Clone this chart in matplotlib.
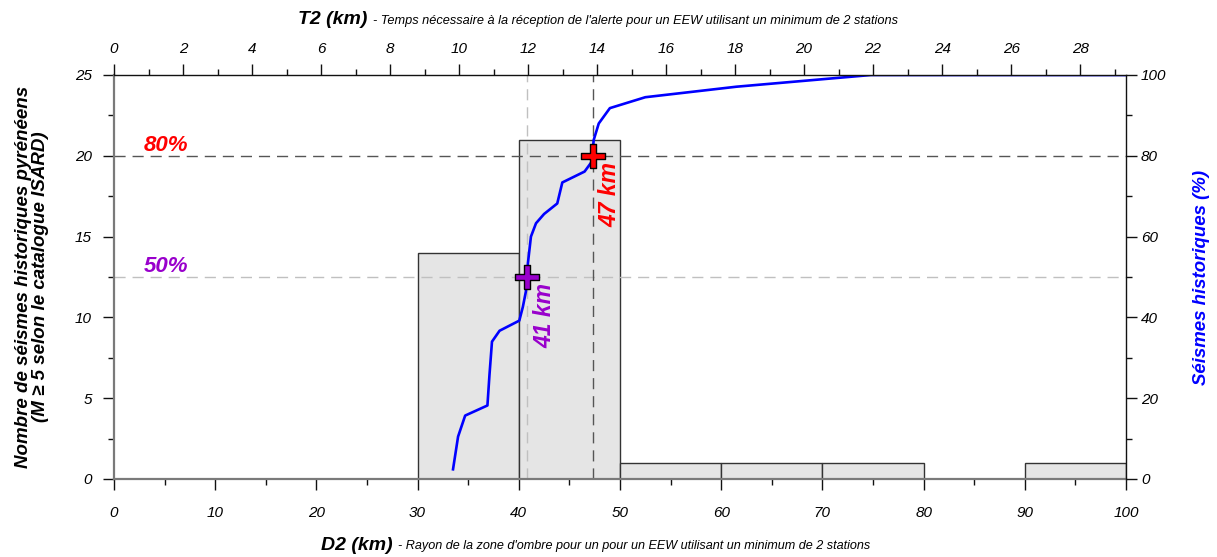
import matplotlib
matplotlib.use("Agg")
import matplotlib.pyplot as plt
from matplotlib.path import Path
from matplotlib.ticker import MultipleLocator

plt.rcParams["font.family"] = ["Liberation Sans", "DejaVu Sans"]

# histogram of D2 (10 km bins)
bin_left = [30, 40, 50, 60, 70, 90]
bin_count = [14, 21, 1, 1, 1, 1]

# cumulative curve (% of historical earthquakes vs D2)
cum_d = [33.5, 34.0, 34.7, 36.9, 37.1, 37.35, 38.1, 40.05, 40.4, 40.7, 40.9,
         41.2, 41.7, 42.5, 43.8, 44.3, 46.5, 47.2, 47.4, 47.9, 49.0, 52.5,
         61.5, 74.8, 100.0]
cum_pct = [2.4, 10.5, 15.7, 18.2, 25.7, 34.0, 36.7, 39.2, 42.6, 46.4, 53.4,
           60.0, 63.3, 65.6, 68.2, 73.4, 76.1, 78.5, 83.9, 88.0, 91.8, 94.5,
           97.1, 100.0, 100.0]

# percentile markers
pct_levels = [50, 80]
pct_d = [40.85, 47.3]
pct_colors = ["#9900cc", "#ff0000"]
pct_labels = ["50%", "80%"]
km_labels = ["41 km", "47 km"]

t2_max = 29.33

# plus-shaped marker outline
w = 0.22
plus = Path([(-w, -1), (w, -1), (w, -w), (1, -w), (1, w), (w, w), (w, 1),
             (-w, 1), (-w, w), (-1, w), (-1, -w), (-w, -w), (-w, -1)])

fig = plt.figure(figsize=(12.17, 5.57), dpi=100)
ax = fig.add_axes([114 / 1217, 78 / 557, 1012 / 1217, 404 / 557])
ax_r = ax.twinx()
ax_t = ax.twiny()

bold_it = dict(fontweight="bold", fontstyle="italic")

ax.bar(bin_left, bin_count, width=10, align="edge", color="#e5e5e5",
       edgecolor="#333333", linewidth=1.0, zorder=1)

ax.set_xlim(0, 100)
ax.set_ylim(0, 25)
ax_r.set_ylim(0, 100)
ax_t.set_xlim(0, t2_max)

# reference dashed lines
line_styles = {50: ("#c0c0c0", 12.5), 80: ("#555555", 20)}
for lvl, d in zip(pct_levels, pct_d):
    col, yv = line_styles[lvl]
    ax.axhline(yv, color=col, lw=1.0, ls=(0, (8, 5)), zorder=2)
    ax.axvline(d, color=col, lw=1.0, ls=(0, (8, 5)), zorder=2)

ax_r.plot(cum_d, cum_pct, color="#0000ff", lw=1.9, zorder=3)

for lvl, d, c, pl, kl in zip(pct_levels, pct_d, pct_colors, pct_labels, km_labels):
    ax_r.plot([d], [lvl], marker=plus, markersize=17, color=c,
              markeredgecolor="black", markeredgewidth=1.0, zorder=4)
    ax_r.text(2.9, lvl + 1.2, pl, color=c, fontsize=16, ha="left",
              va="baseline", **bold_it)
    ax_r.text(d + 1.7, lvl - 9.65, kl, color=c, fontsize=16.5, rotation=90,
              ha="center", va="center", **bold_it)

# ticks
ax.xaxis.set_major_locator(MultipleLocator(10))
ax.xaxis.set_minor_locator(MultipleLocator(5))
ax.yaxis.set_major_locator(MultipleLocator(5))
ax.yaxis.set_minor_locator(MultipleLocator(2.5))
ax_r.yaxis.set_major_locator(MultipleLocator(20))
ax_r.yaxis.set_minor_locator(MultipleLocator(10))
ax_t.xaxis.set_major_locator(MultipleLocator(2))
ax_t.xaxis.set_minor_locator(MultipleLocator(1))

# each axes keeps only its own spines
own_spines = {ax: ("left", "bottom"), ax_r: ("right",), ax_t: ("top",)}
for a, keep in own_spines.items():
    a.tick_params(which="major", direction="out", length=7.8, width=1.0,
                  color="#111111", labelsize=11)
    a.tick_params(which="minor", direction="out", length=4, width=1.0,
                  color="#111111")
    for lab in a.get_xticklabels() + a.get_yticklabels():
        lab.set_fontstyle("italic")
    for name, sp in a.spines.items():
        sp.set_visible(name in keep)
        if name in ("left", "bottom"):
            sp.set_color("#7a7a7a")
            sp.set_linewidth(1.6)
        else:
            sp.set_color("#111111")
            sp.set_linewidth(1.0)

ax.tick_params(axis="x", which="major", pad=11.5)
ax.tick_params(axis="y", which="major", pad=8)
ax_r.tick_params(axis="y", which="major", pad=3)
ax_t.tick_params(axis="x", which="major", pad=6)

ax.set_ylabel("Nombre de séismes historiques pyrénéens\n(M ≥ 5 selon le catalogue ISARD)",
              fontsize=13.5, linespacing=1.05, **bold_it)
ax.yaxis.set_label_coords(-0.064, 0.5)
ax_r.set_ylabel("Séismes historiques (%)", fontsize=13.4, color="#0000ff",
                **bold_it)
ax_r.yaxis.set_label_coords(1.066, 0.5)

# composite axis titles (bold part + small italic description)
fig.text(367 / 1217, 1 - 20 / 557, "T2 (km)", fontsize=14, ha="right",
         va="center", **bold_it)
fig.text(373 / 1217, 1 - 21 / 557,
         "- Temps nécessaire à la réception de l'alerte pour un EEW utilisant un minimum de 2 stations",
         fontsize=9.15, fontstyle="italic", ha="left", va="center")
fig.text(393 / 1217, 1 - 545 / 557, "D2 (km)", fontsize=14, ha="right",
         va="center", **bold_it)
fig.text(398 / 1217, 1 - 546 / 557,
         "- Rayon de la zone d'ombre pour un pour un EEW utilisant un minimum de 2 stations",
         fontsize=9.1, fontstyle="italic", ha="left", va="center")

fig.savefig("out.png", dpi=100)
